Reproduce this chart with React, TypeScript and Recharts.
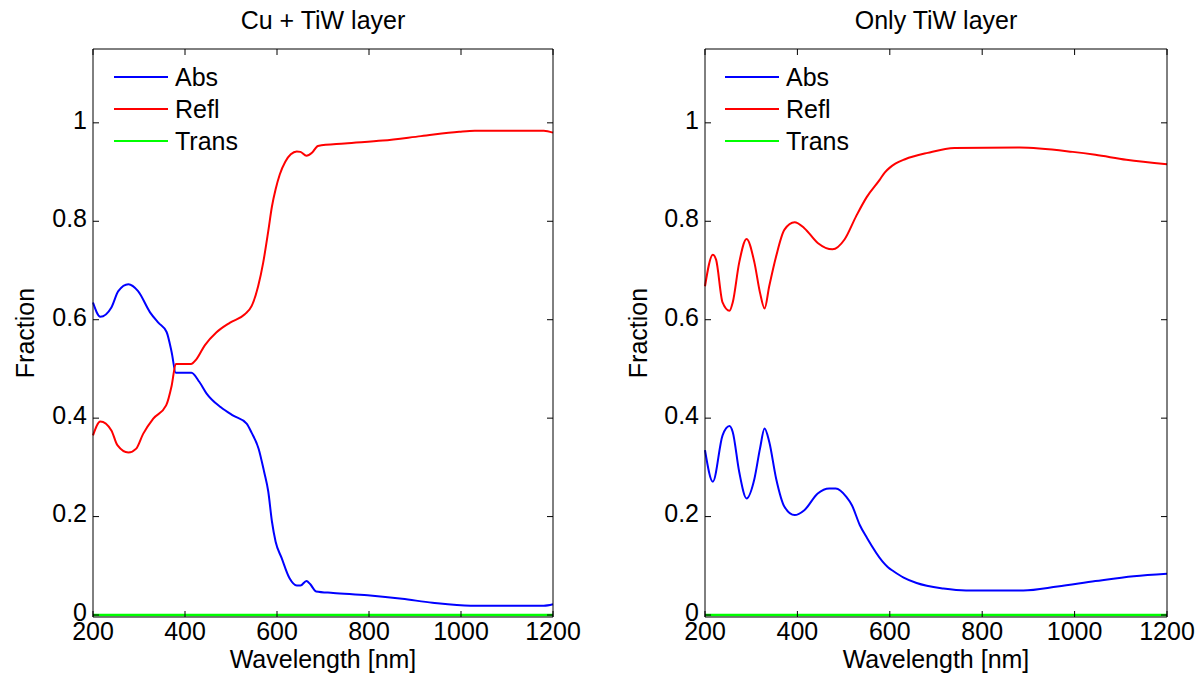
import { Legend, Line, LineChart, XAxis, YAxis } from 'recharts'

// wavelength [nm], fraction
const cuAbs: [number, number][] = [
  [200, 0.635], [216, 0.606], [240, 0.625], [255, 0.658], [277, 0.672], [298, 0.658], [324, 0.615],
  [342, 0.594], [360, 0.575], [371, 0.534], [380, 0.492], [414, 0.492], [431, 0.474], [447, 0.45],
  [478, 0.422], [505, 0.405], [534, 0.389], [545, 0.37], [560, 0.338], [572, 0.291], [581, 0.251],
  [589, 0.19], [597, 0.149], [610, 0.116], [627, 0.075], [643, 0.06], [651, 0.06], [664, 0.069],
  [672, 0.063], [685, 0.048], [722, 0.045], [797, 0.04], [872, 0.033], [938, 0.025], [1021, 0.019],
  [1180, 0.019], [1200, 0.022],
]
const cuRefl: [number, number][] = [
  [200, 0.365], [216, 0.393], [240, 0.375], [253, 0.345], [277, 0.33], [294, 0.338], [309, 0.368],
  [331, 0.399], [359, 0.426], [371, 0.466], [380, 0.51], [413, 0.51], [425, 0.52], [443, 0.548],
  [468, 0.574], [498, 0.594], [530, 0.611], [545, 0.628], [559, 0.668], [570, 0.716], [581, 0.78],
  [589, 0.83], [597, 0.865], [606, 0.895], [618, 0.921], [630, 0.936], [643, 0.942], [651, 0.941],
  [664, 0.933], [676, 0.939], [689, 0.953], [747, 0.958], [830, 0.964], [913, 0.973], [996, 0.982],
  [1030, 0.984], [1180, 0.984], [1200, 0.98],
]
const cuTrans: [number, number][] = [[200, 0], [1200, 0]]

const tiwAbs: [number, number][] = [
  [200, 0.335], [217, 0.271], [238, 0.365], [253, 0.384], [260, 0.372], [274, 0.291], [290, 0.237],
  [307, 0.277], [319, 0.338], [329, 0.379], [339, 0.352], [354, 0.277], [372, 0.22], [394, 0.203],
  [415, 0.213], [444, 0.247], [469, 0.257], [483, 0.257], [506, 0.24], [518, 0.223], [535, 0.183],
  [551, 0.156], [584, 0.109], [596, 0.097], [608, 0.089], [630, 0.076], [658, 0.065], [716, 0.054],
  [765, 0.05], [889, 0.05], [963, 0.058], [1045, 0.069], [1128, 0.079], [1200, 0.084],
]
const tiwRefl: [number, number][] = [
  [200, 0.668], [217, 0.732], [224, 0.722], [238, 0.635], [253, 0.618], [260, 0.635], [274, 0.716],
  [290, 0.764], [307, 0.716], [319, 0.655], [329, 0.623], [339, 0.668], [354, 0.729], [372, 0.783],
  [394, 0.798], [415, 0.786], [444, 0.756], [476, 0.743], [502, 0.763], [527, 0.81], [550, 0.849],
  [578, 0.884], [589, 0.899], [600, 0.909], [612, 0.917], [633, 0.926], [682, 0.939], [740, 0.949],
  [881, 0.95], [996, 0.941], [1045, 0.935], [1112, 0.925], [1200, 0.916],
]
const tiwTrans: [number, number][] = [[200, 0], [1200, 0]]

const xTicks = [200, 400, 600, 800, 1000, 1200]
const yTicks = [0, 0.2, 0.4, 0.6, 0.8, 1]
const X_DOMAIN: [number, number] = [200, 1200]
const Y_DOMAIN: [number, number] = [-0.004, 1.15]

const FONT = '"Liberation Sans", Arial, Helvetica, sans-serif'
const FS = 25
const tickStyle = { fontSize: FS, fill: '#000' }
const black = { stroke: '#000' }
const noLabel = () => <g />

const toPoints = (rows: [number, number][]) => rows.map(([nm, v]) => ({ nm, v }))

function renderLegend(props: any) {
  return (
    <div>
      {(props.payload || []).map((e: any) => (
        <div key={e.value} style={{ display: 'flex', alignItems: 'center', height: 32 }}>
          <span style={{ width: 54, borderTop: `2px solid ${e.color}`, marginRight: 7 }} />
          <span style={{ fontSize: FS, lineHeight: '32px', color: '#000' }}>{e.value}</span>
        </div>
      ))}
    </div>
  )
}

type PanelProps = {
  title: string
  abs: [number, number][]
  refl: [number, number][]
  trans: [number, number][]
  left: number
  width: number
  axisWidth: number
  marginRight: number
  legendLeft: number
  labelX: number
}

function Panel({ title, abs, refl, trans, left, width, axisWidth, marginRight, legendLeft, labelX }: PanelProps) {
  const plotWidth = width - axisWidth - marginRight - 1
  return (
    <div style={{ position: 'absolute', left, top: 0, width, height: 675 }}>
      <div
        style={{
          position: 'absolute', left: axisWidth, top: 8, width: plotWidth, textAlign: 'center',
          fontSize: FS, lineHeight: `${FS}px`, color: '#000',
        }}
      >
        {title}
      </div>
      <LineChart width={width} height={675} margin={{ top: 48, right: marginRight, bottom: 0, left: 0 }}>
        <XAxis
          xAxisId="b" dataKey="nm" type="number" domain={X_DOMAIN} ticks={xTicks}
          height={58} tickSize={-6} tickMargin={11} tick={tickStyle} axisLine={black} tickLine={black}
          label={{ value: 'Wavelength [nm]', position: 'insideBottom', offset: 7, fontSize: FS, fill: '#000' }}
        />
        {/* box top with inward ticks, as matlab draws it */}
        <XAxis
          xAxisId="t" orientation="top" dataKey="nm" type="number" domain={X_DOMAIN} ticks={xTicks}
          height={1} tickSize={-6} tick={noLabel} axisLine={black} tickLine={black}
        />
        <YAxis
          yAxisId="l" type="number" domain={Y_DOMAIN} ticks={yTicks} width={axisWidth}
          tickSize={-6} tickMargin={12} tick={{ ...tickStyle, dy: -3 }} tickFormatter={(v: number) => String(v)}
          axisLine={black} tickLine={black}
          label={{ value: 'Fraction', angle: -90, position: 'center', dx: labelX - axisWidth / 2, fontSize: FS, fill: '#000' }}
        />
        <YAxis
          yAxisId="r" orientation="right" type="number" domain={Y_DOMAIN} ticks={yTicks} width={1}
          tickSize={-6} tick={noLabel} axisLine={black} tickLine={black}
        />
        <Legend
          layout="vertical" align="center" verticalAlign="middle" content={renderLegend}
          wrapperStyle={{ position: 'absolute', left: legendLeft, top: 61, width: 'auto' }}
        />
        <Line
          xAxisId="b" yAxisId="l" data={toPoints(abs)} dataKey="v" name="Abs" type="monotone"
          stroke="#0000ff" strokeWidth={2} dot={false} isAnimationActive={false}
        />
        <Line
          xAxisId="b" yAxisId="l" data={toPoints(refl)} dataKey="v" name="Refl" type="monotone"
          stroke="#ff0000" strokeWidth={2} dot={false} isAnimationActive={false}
        />
        {/* same domains as b/l; bound to t/r so those axes get their ticks */}
        <Line
          xAxisId="t" yAxisId="r" data={toPoints(trans)} dataKey="v" name="Trans" type="linear"
          stroke="#00ff00" strokeWidth={2.5} dot={false} isAnimationActive={false}
        />
      </LineChart>
    </div>
  )
}

export default function App() {
  return (
    <div style={{ position: 'absolute', left: 0, top: 0, width: 1198, height: 675, background: '#fff', fontFamily: FONT }}>
      <Panel title="Cu + TiW layer" abs={cuAbs} refl={cuRefl} trans={cuTrans}
        left={0} width={600} axisWidth={93} marginRight={46} legendLeft={114} labelX={25} />
      <Panel title="Only TiW layer" abs={tiwAbs} refl={tiwRefl} trans={tiwTrans}
        left={600} width={598} axisWidth={105} marginRight={30} legendLeft={125} labelX={38} />
    </div>
  )
}
